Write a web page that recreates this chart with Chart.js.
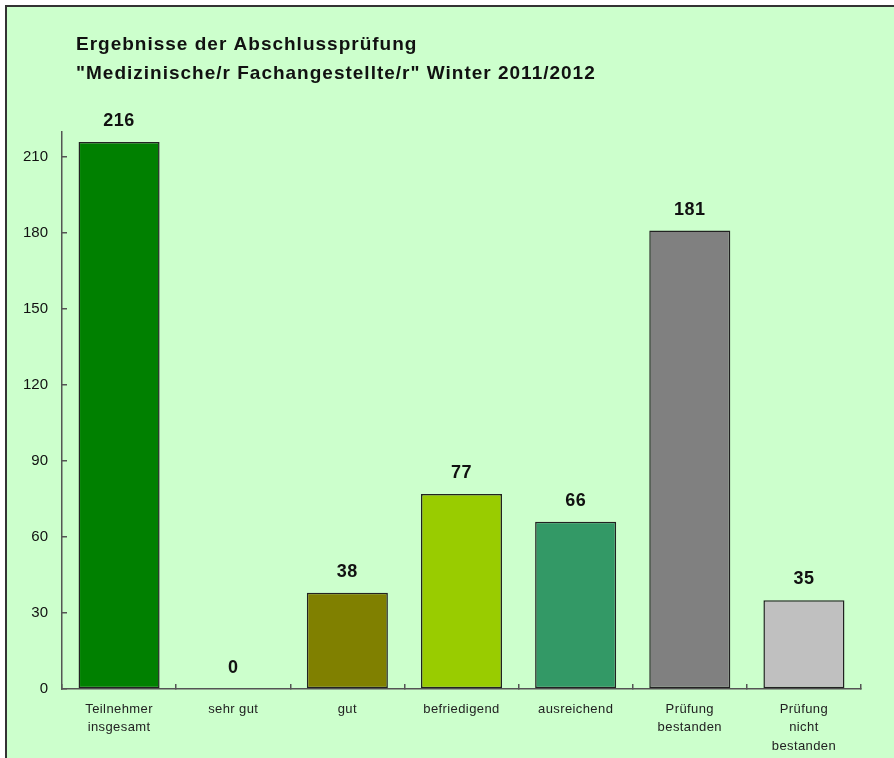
<!DOCTYPE html>
<html>
<head>
<meta charset="utf-8">
<script src="https://cdn.jsdelivr.net/npm/chart.js@4/dist/chart.umd.min.js"></script>
<style>
  body { margin: 0; background: #fff; overflow: hidden; }
  #rahmen { position: absolute; left: 5px; top: 5px; width: 1000px; height: 1000px;
            background: #CCFFCC; border-left: 2px solid #333; border-top: 2px solid #333; }
  #myChart { position: absolute; left: 0; top: 0; }
</style>
</head>
<body>
<div id="rahmen"></div>
<canvas id="myChart" width="894" height="758"></canvas>
<script>
// Daten
var kategorien = [
  ['Teilnehmer', 'insgesamt'],
  'sehr gut',
  'gut',
  'befriedigend',
  'ausreichend',
  ['Prüfung', 'bestanden'],
  ['Prüfung', 'nicht', 'bestanden']
];
var werte = [216, 0, 38, 77, 66, 181, 35];
var farben = ['#008000', '#C0C0C0', '#808000', '#99CC00', '#339966', '#808080', '#C0C0C0'];
var titel = ['Ergebnisse der Abschlussprüfung', '"Medizinische/r Fachangestellte/r" Winter 2011/2012'];

var schrift = '"Liberation Sans", Arial, sans-serif';

// zeichnen mit etwas Zeichenabstand (wie im Original)
function mitAbstand(obj, methode, abstand) {
  var orig = obj[methode];
  obj[methode] = function () {
    var c = this.ctx;
    c.save();
    c.letterSpacing = abstand;
    orig.apply(this, arguments);
    c.restore();
  };
}

// Zahlen über den Balken
var wertePlugin = {
  id: 'werte',
  afterDatasetsDraw: function (chart) {
    var ctx = chart.ctx;
    var meta = chart.getDatasetMeta(0);
    ctx.save();
    ctx.font = 'bold 18px ' + schrift;
    ctx.fillStyle = '#111';
    ctx.textAlign = 'center';
    ctx.textBaseline = 'middle';
    ctx.letterSpacing = '0.5px';
    meta.data.forEach(function (bar, i) {
      ctx.fillText(werte[i], bar.x, bar.y - 21);
    });
    ctx.restore();
  }
};

// Titel etwas nach rechts schieben
var titelPlugin = {
  id: 'titelLinks',
  afterLayout: function (chart) {
    var tb = chart.titleBlock;
    tb.left = 76;
    if (!tb.gepatcht) {
      mitAbstand(tb, 'draw', '1px');
      tb.gepatcht = true;
    }
    var sx = chart.scales.x;
    if (!sx.gepatcht) {
      mitAbstand(sx, 'drawLabels', '0.4px');
      sx.gepatcht = true;
    }
  }
};

var ctx = document.getElementById('myChart').getContext('2d');
var chart = new Chart(ctx, {
  type: 'bar',
  data: {
    labels: kategorien,
    datasets: [{
      data: werte,
      backgroundColor: farben,
      borderColor: '#222',
      borderWidth: 1.5,
      borderSkipped: false,
      barPercentage: 0.71,
      categoryPercentage: 1
    }]
  },
  options: {
    responsive: false,
    animation: false,
    layout: { padding: { left: 0, right: 33, top: 0, bottom: 0 } },
    plugins: {
      legend: { display: false },
      tooltip: { enabled: false },
      title: {
        display: true,
        text: titel,
        align: 'start',
        color: '#111',
        font: { family: schrift, size: 19, weight: 'bold', lineHeight: 1.52 },
        padding: { top: 30, bottom: 44 }
      }
    },
    scales: {
      x: {
        grid: { drawOnChartArea: false, tickLength: -5, color: '#555', lineWidth: 1.5 },
        border: { color: '#555', width: 1.5 },
        ticks: { color: '#222', padding: 16, maxRotation: 0, autoSkip: false,
                 font: { family: schrift, size: 13, lineHeight: 1.42 } },
        afterFit: function (scale) { scale.height = 69; }
      },
      y: {
        min: 0,
        max: 220,
        grid: { drawOnChartArea: false, tickLength: -5, color: '#555', lineWidth: 1.5 },
        border: { color: '#555', width: 1.5 },
        ticks: { stepSize: 30, includeBounds: false, color: '#111', padding: 19,
                 font: { family: schrift, size: 15 } },
        afterFit: function (scale) { scale.width = 62; }
      }
    }
  },
  plugins: [wertePlugin, titelPlugin]
});
</script>
</body>
</html>
